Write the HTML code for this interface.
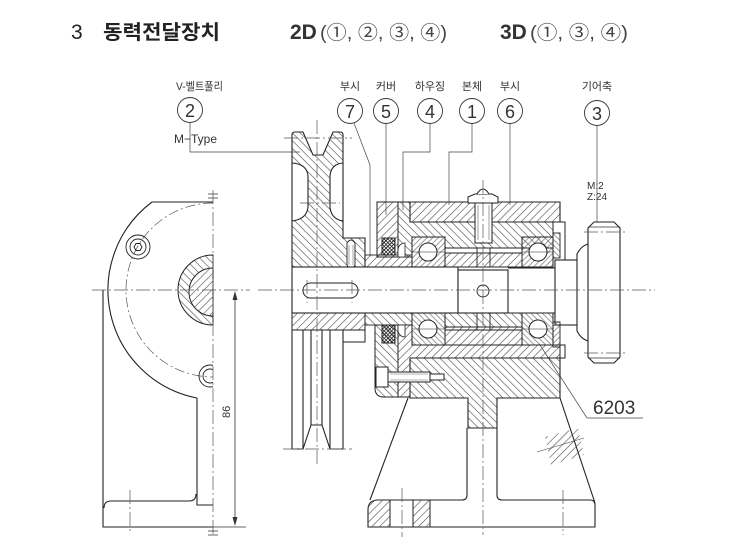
<!DOCTYPE html>
<html><head><meta charset="utf-8"><style>
html,body{margin:0;padding:0;background:#fff;}
svg{display:block;}
</style></head><body>
<svg width="743" height="540" viewBox="0 0 743 540" xmlns="http://www.w3.org/2000/svg">
<defs>
<pattern id="hA" width="5.5" height="5.5" patternUnits="userSpaceOnUse" patternTransform="rotate(45)"><line x1="2.75" y1="0" x2="2.75" y2="5.5" stroke="#4a4a4a" stroke-width="0.6"/></pattern>
<pattern id="hB" width="5.5" height="5.5" patternUnits="userSpaceOnUse" patternTransform="rotate(-45)"><line x1="2.75" y1="0" x2="2.75" y2="5.5" stroke="#4a4a4a" stroke-width="0.6"/></pattern>
<pattern id="hC" width="4" height="4" patternUnits="userSpaceOnUse" patternTransform="rotate(45)"><line x1="2" y1="0" x2="2" y2="4" stroke="#4a4a4a" stroke-width="0.55"/></pattern>
<pattern id="hD" width="4" height="4" patternUnits="userSpaceOnUse" patternTransform="rotate(-45)"><line x1="2" y1="0" x2="2" y2="4" stroke="#4a4a4a" stroke-width="0.55"/></pattern>
<pattern id="hX" width="2.6" height="2.6" patternUnits="userSpaceOnUse" patternTransform="rotate(45)"><line x1="1.3" y1="0" x2="1.3" y2="2.6" stroke="#222" stroke-width="0.8"/><line x1="0" y1="1.3" x2="2.6" y2="1.3" stroke="#222" stroke-width="0.8"/></pattern>
<clipPath id="leftHalf"><rect x="0" y="0" width="213" height="540"/></clipPath>
</defs>

<!-- Title -->
<g font-family="'Liberation Sans','Noto Sans CJK KR',sans-serif" fill="#222">
<text x="71" y="39" font-size="21">3</text>
<text x="103" y="39" font-size="20" font-weight="bold" textLength="117" lengthAdjust="spacingAndGlyphs" font-family="'Noto Sans CJK KR',sans-serif">동력전달장치</text>
<text x="290" y="39" font-size="21" font-weight="bold" fill="#333">2D</text>
<text x="320" y="39" font-size="19" fill="#444" textLength="127" lengthAdjust="spacingAndGlyphs">(①, ②, ③, ④)</text>
<text x="500" y="39" font-size="21" font-weight="bold" fill="#333">3D</text>
<text x="530" y="39" font-size="19" fill="#444" textLength="98" lengthAdjust="spacingAndGlyphs">(①, ③, ④)</text>
</g>

<!-- Part labels -->
<g font-family="'Liberation Sans','Noto Sans CJK KR',sans-serif" fill="#333" font-size="11">
<text x="176" y="90" textLength="47" lengthAdjust="spacingAndGlyphs">V-벨트풀리</text>
<text x="350" y="90" text-anchor="middle">부시</text>
<text x="386" y="90" text-anchor="middle">커버</text>
<text x="430" y="90" text-anchor="middle">하우징</text>
<text x="472" y="90" text-anchor="middle">본체</text>
<text x="510" y="90" text-anchor="middle">부시</text>
<text x="597" y="90" text-anchor="middle">기어축</text>
<text x="174" y="143" font-size="12" textLength="43" lengthAdjust="spacingAndGlyphs">M−Type</text>
<text x="587" y="189" font-size="10">M:2</text>
<text x="587" y="200" font-size="10">Z:24</text>
<text x="593" y="414" font-size="19" fill="#333">6203</text>
<text transform="translate(230,418) rotate(-90)" font-size="11">86</text>
</g>

<!-- balloons -->
<g fill="none" stroke="#333" stroke-width="0.9">
<circle cx="190" cy="110" r="12.5"/>
<circle cx="350" cy="111" r="12.5"/>
<circle cx="386" cy="111" r="12.5"/>
<circle cx="430" cy="111" r="12.5"/>
<circle cx="472" cy="111" r="12.5"/>
<circle cx="510" cy="111" r="12.5"/>
<circle cx="597" cy="113" r="12.5"/>
</g>
<g font-family="'Liberation Sans',sans-serif" font-size="18" fill="#333" text-anchor="middle">
<text x="190" y="117">2</text>
<text x="350" y="118">7</text>
<text x="386" y="118">5</text>
<text x="430" y="118">4</text>
<text x="472" y="118">1</text>
<text x="510" y="118">6</text>
<text x="597" y="120">3</text>
</g>

<!-- leaders -->
<g fill="none" stroke="#444" stroke-width="0.7">
<path d="M190,123 V152 H300"/>
<path d="M354,123 L370,165 V255"/>
<path d="M386,124 V215"/>
<path d="M430,124 V152 H403 V210"/>
<path d="M472,124 V152 H449 V205"/>
<path d="M510,124 V205"/>
<path d="M597,126 V250"/>
<path d="M540,345 L587,418 H643"/>
</g>

<!-- ============ LEFT END VIEW ============ -->
<g fill="none" stroke="#222" stroke-width="1.1">
<path d="M152,202 H213"/>
<path d="M152,202 A110,110 0 0 0 197,398"/>
<path d="M103,290 V527 H213"/>
<path d="M197,398 V505 H213"/>
<path d="M104,508 Q104,501 111,501 H189 Q196,501 196,494"/>
</g>
<path d="M213,255 A35,35 0 0 0 213,325 Z" fill="url(#hB)" stroke="#222" stroke-width="1"/>
<path d="M213,268 A24,24 0 0 0 213,316 Z" fill="#fff" stroke="#222" stroke-width="1"/>
<path d="M213,268 A24,24 0 0 0 213,316 Z" fill="url(#hA)"/>
<path d="M213,203 A87,87 0 0 0 213,377" fill="none" stroke="#555" stroke-width="0.7" stroke-dasharray="10,3,2,3"/>
<g fill="none" stroke="#222" stroke-width="0.9">
<circle cx="138" cy="247" r="12"/>
<circle cx="138" cy="247" r="8"/>
<polygon points="142,247 140,250.5 136,250.5 134,247 136,243.5 140,243.5"/>
<g clip-path="url(#leftHalf)">
<circle cx="210" cy="376" r="11"/>
<circle cx="210" cy="376" r="7"/>
</g>
</g>
<g fill="none" stroke="#555" stroke-width="0.7" stroke-dasharray="14,3,2,3">
<path d="M213,190 V535"/>
<path d="M92,290 H250"/>
<path d="M130,490 V533"/>
</g>
<g stroke="#333" stroke-width="0.8">
<path d="M208,194 H218 M208,198 H218 M208,531 H218 M208,535 H218"/>
<path d="M213,527 H246"/>
<path d="M235,293 V524"/>
</g>
<path d="M235,291 L232.5,300 L237.5,300 Z M235,526 L232.5,517 L237.5,517 Z" fill="#333"/>

<!-- ============ MAIN SECTION VIEW ============ -->
<path d="M292,135 Q292,132 295,132 L303,132 L313,155 L323,155 L333,132 L340,132 Q343,132 343,135 L343,163 Q331,164 330,176 L330,207 Q331,219 343,221 L343,238 L365,238 L365,267 L292,267 L292,221 Q307,219 308,207 L308,176 Q307,164 292,163 Z" fill="url(#hB)" stroke="#222" stroke-width="1.1"/>
<path d="M292,163 V221 M343,163 V221" stroke="#222" stroke-width="1.1" fill="none"/>
<path d="M347,243 Q351,237 355,243 L355,265 L351,273 L347,265 Z" fill="#fff" stroke="#222" stroke-width="0.9"/>
<path d="M349,245 V265 M353,245 V265" stroke="#555" stroke-width="0.5"/>
<rect x="292" y="313" width="73" height="17" fill="url(#hA)" stroke="#222" stroke-width="1"/>
<rect x="343" y="330" width="22" height="12" fill="none" stroke="#222" stroke-width="1"/>
<g fill="none" stroke="#222" stroke-width="1.1">
<path d="M292,330 V449 H303 L311,425 H322 L330,449 H343 V330"/>
<path d="M303,330 V449 M311,330 V425 M322,330 V425 M330,330 V449"/>
</g>
<rect x="365" y="255" width="47" height="12" fill="url(#hA)" stroke="#222" stroke-width="0.9"/>
<rect x="365" y="313" width="47" height="12" fill="url(#hB)" stroke="#222" stroke-width="0.9"/>

<rect x="292" y="267" width="166" height="46" fill="#fff" stroke="#222" stroke-width="1.1"/>
<rect x="303" y="283" width="55" height="15" rx="7.5" fill="none" stroke="#222" stroke-width="1"/>

<path d="M377,202 H398 V257 H377 Z" fill="url(#hA)" stroke="#222" stroke-width="1"/>
<path d="M398,202 H410 V222 H553 V248 H445 V237 H412 V257 H398 Z" fill="url(#hB)" stroke="#222" stroke-width="1"/>
<path d="M410,202 H560 V222 H410 Z" fill="url(#hA)" stroke="#222" stroke-width="1.1"/>
<path d="M560,222 H565 V262" fill="none" stroke="#222" stroke-width="1"/>
<rect x="382" y="238" width="13" height="17" fill="url(#hX)" stroke="#222" stroke-width="1"/>
<path d="M398,250 A7,7 0 0 1 405,243 V257 H398 Z" fill="#fff" stroke="#222" stroke-width="0.8"/>
<rect x="445" y="253" width="77" height="14" fill="url(#hA)" stroke="#222" stroke-width="1"/>
<path d="M445,248 H522" stroke="#222" stroke-width="1"/>
<rect x="412" y="237" width="33" height="30" fill="url(#hC)" stroke="#222" stroke-width="1"/>
<rect x="522" y="237" width="31" height="30" fill="url(#hC)" stroke="#222" stroke-width="1"/>
<circle cx="428" cy="252" r="9" fill="#fff" stroke="#222" stroke-width="1"/>
<circle cx="538" cy="252" r="9" fill="#fff" stroke="#222" stroke-width="1"/>
<path d="M412,252 H445 M522,252 H553" stroke="#222" stroke-width="0.6"/>
<rect x="553" y="233" width="7" height="25" fill="url(#hD)" stroke="#222" stroke-width="0.9"/>

<rect x="475" y="203" width="17" height="40" fill="#fff" stroke="#222" stroke-width="1"/>
<path d="M478,205 V240 M489,205 V240" stroke="#444" stroke-width="0.5"/>
<path d="M468,203 V197 L475,194 H492 L498,197 V203 Z" fill="#fff" stroke="#222" stroke-width="1"/>
<path d="M477,194 Q483,184 489,194" fill="#fff" stroke="#222" stroke-width="1"/>
<path d="M477,248 V267 M490,248 V267 M477,313 V330 M490,313 V330" stroke="#222" stroke-width="0.9"/>

<rect x="458" y="270" width="50" height="43" fill="#fff" stroke="#222" stroke-width="1.1"/>
<circle cx="483" cy="291" r="6" fill="none" stroke="#222" stroke-width="0.9"/>
<path d="M508,268 H555 M508,313 H555" stroke="#222" stroke-width="1.1"/>
<rect x="555" y="260" width="22" height="65" fill="#fff" stroke="#222" stroke-width="1.1"/>
<path d="M577,260 V254 Q581,246 588,244 M577,325 V331 Q581,339 588,341" fill="none" stroke="#222" stroke-width="1.1"/>
<path d="M588,228 L594,222 H614 L620,228 V357 L614,363 H594 L588,357 Z" fill="#fff" stroke="#222" stroke-width="1.1"/>
<path d="M588,227 H620 M588,358 H620" stroke="#333" stroke-width="0.7"/>

<path d="M398,325 H412 V345 H560 V358 H410 V397 H398 Z" fill="url(#hA)" stroke="#222" stroke-width="1"/>
<path d="M375,325 H398 V397 H384 Q375,397 375,388 Z" fill="url(#hB)" stroke="#222" stroke-width="1"/>
<rect x="382" y="325" width="13" height="18" fill="url(#hX)" stroke="#222" stroke-width="1"/>
<path d="M398,330 A7,7 0 0 0 405,337 V325 H398 Z" fill="#fff" stroke="#222" stroke-width="0.8"/>
<rect x="445" y="313" width="77" height="14" fill="url(#hB)" stroke="#222" stroke-width="1"/>
<rect x="445" y="327" width="77" height="18" fill="url(#hA)" stroke="#222" stroke-width="1"/>
<path d="M445,330 H522" stroke="#222" stroke-width="1"/>
<rect x="412" y="313" width="33" height="32" fill="url(#hD)" stroke="#222" stroke-width="1"/>
<rect x="522" y="313" width="31" height="32" fill="url(#hD)" stroke="#222" stroke-width="1"/>
<circle cx="428" cy="329" r="9" fill="#fff" stroke="#222" stroke-width="1"/>
<circle cx="538" cy="329" r="9" fill="#fff" stroke="#222" stroke-width="1"/>
<path d="M412,329 H445 M522,329 H553" stroke="#222" stroke-width="0.6"/>
<rect x="553" y="322" width="7" height="25" fill="url(#hC)" stroke="#222" stroke-width="0.9"/>
<path d="M560,345 H565 V358 H560" fill="none" stroke="#222" stroke-width="1"/>
<path d="M410,358 H560 V398 H497 V428 H468 V398 H410 Z" fill="url(#hB)" stroke="#222" stroke-width="1.1"/>
<rect x="376" y="367" width="12" height="20" fill="#fff" stroke="#222" stroke-width="1"/>
<rect x="388" y="372" width="42" height="10" fill="#fff" stroke="#222" stroke-width="1"/>
<rect x="430" y="374" width="14" height="6" fill="#fff" stroke="#222" stroke-width="1"/>
<path d="M390,374 H428 M390,380 H428" stroke="#666" stroke-width="0.5"/>

<g fill="none" stroke="#222" stroke-width="1.1">
<path d="M408,398 L370,500"/>
<path d="M560,398 L595,503"/>
<path d="M368,510 Q368,500 378,500 H462 Q467,500 467,495 V428"/>
<path d="M497,428 V495 Q497,500 502,500 H590 Q595,500 595,505 V527 H368 V510"/>
</g>
<rect x="368" y="500" width="22" height="27" fill="url(#hA)"/>
<rect x="413" y="500" width="17" height="27" fill="url(#hA)"/>
<path d="M390,500 V527 M413,500 V527 M430,500 V527" stroke="#222" stroke-width="1"/>
<clipPath id="patch"><polygon points="545,437 578,428 584,455 551,465"/></clipPath>
<rect x="540" y="425" width="50" height="45" fill="url(#hA)" clip-path="url(#patch)"/>
<path d="M537,452 L584,438" stroke="#444" stroke-width="0.6"/>

<g fill="none" stroke="#555" stroke-width="0.7" stroke-dasharray="14,3,2,3">
<path d="M258,290 H655"/>
<path d="M317,120 V465"/>
<path d="M284,138 H352"/>
<path d="M300,203 H340"/>
<path d="M283,449 H352"/>
<path d="M483,180 V535"/>
<path d="M402,488 V537"/>
<path d="M563,490 V535"/>
<path d="M584,232 H625 M584,353 H625"/>
<path d="M307,280 V303 M352,280 V303"/>
</g>
</svg>
</body></html>
